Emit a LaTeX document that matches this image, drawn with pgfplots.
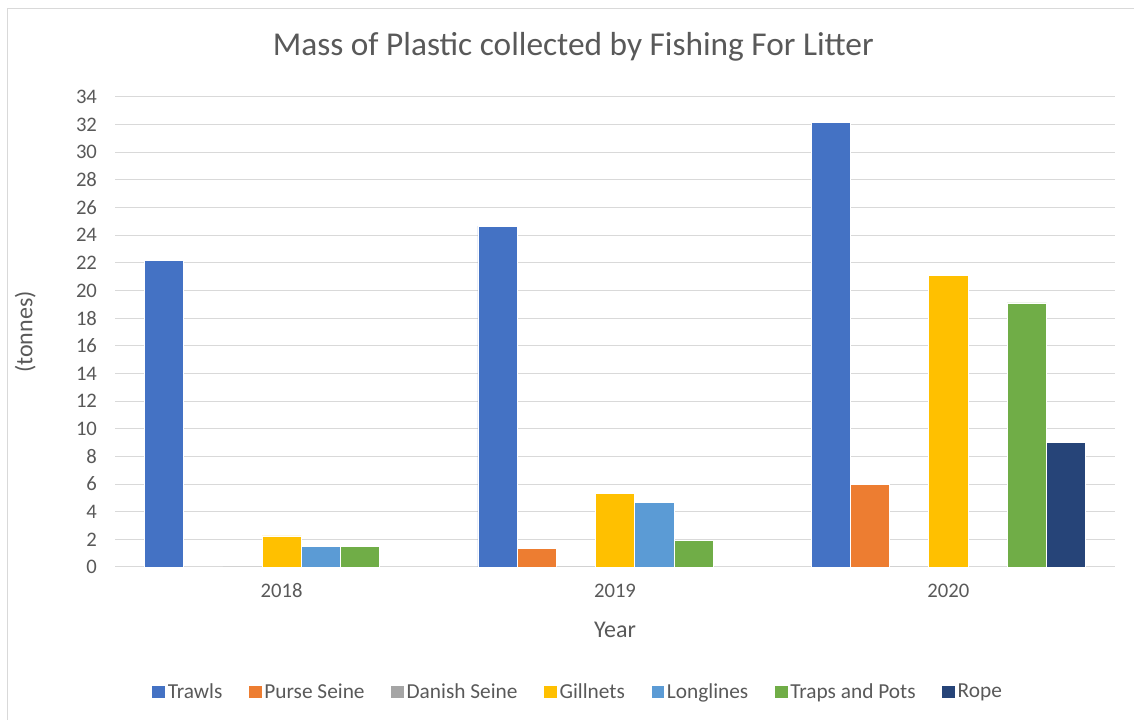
\documentclass[border=0pt]{standalone}
\usepackage{fontspec}
\setmainfont{Carlito}
\usepackage{pgfplots}
\pgfplotsset{compat=1.18}

\definecolor{txt}{HTML}{595959}
\definecolor{gridc}{HTML}{D9D9D9}
\definecolor{cTrawls}{HTML}{4472C4}
\definecolor{cPurse}{HTML}{ED7D31}
\definecolor{cDanish}{HTML}{A5A5A5}
\definecolor{cGill}{HTML}{FFC000}
\definecolor{cLong}{HTML}{5B9BD5}
\definecolor{cTraps}{HTML}{70AD47}
\definecolor{cRope}{HTML}{264478}

\begin{document}
\begin{tikzpicture}
\useasboundingbox (0,0) rectangle (850.5pt,540pt);
% chart area border
\draw[gridc, line width=0.75pt] (5.25pt,-20pt) rectangle (880pt,533.25pt);
% chart title
\node[txt, font=\fontsize{25}{30}\selectfont] at (430pt,504.75pt)
  {Mass of Plastic collected by Fishing For Litter};
% axis titles
\node[txt, font=\fontsize{18}{22}\selectfont] at (461.25pt,67.5pt) {Year};
\node[txt, font=\fontsize{18}{22}\selectfont, rotate=90] at (19pt,291pt) {(tonnes)};

\begin{axis}[
  at={(86.25pt,114.75pt)}, anchor=south west,
  scale only axis, width=750pt, height=352.5pt,
  xmin=-0.5, xmax=2.5,
  ymin=0, ymax=34,
  xtick={0,1,2}, xticklabels={2018,2019,2020},
  ytick={0,2,...,34},
  /pgf/number format/assume math mode=true,
  ybar=0pt, bar width=29.4pt,
  axis x line*=bottom, axis y line*=left,
  y axis line style={draw=none},
  x axis line style={draw=gridc, line width=0.75pt},
  major tick length=0pt,
  ymajorgrids, grid style={draw=gridc, line width=0.75pt},
  tick label style={txt, font=\fontsize{15.5}{18}\selectfont},
  yticklabel style={xshift=-10pt},
  xticklabel style={yshift=-9pt},
  legend columns=7,
  legend cell align=left,
  legend style={at={(0.4635,-0.266)}, anchor=center, draw=none, fill=none,
    font=\fontsize{16}{19}\selectfont, text=txt,
    /tikz/every even column/.append style={column sep=18pt}},
  legend image code/.code={\fill[#1, draw=none] (0pt,-4.75pt) rectangle (9.5pt,4.75pt);},
]
\addplot[fill=cTrawls, draw=white, line width=0.4pt] coordinates {(0,22.2) (1,24.65) (2,32.15)};
\addlegendentry{Trawls}
\addplot[fill=cPurse, draw=white, line width=0.4pt] coordinates {(1,1.35) (2,6.0)};
\addlegendentry{Purse Seine}
\addplot[fill=cDanish, draw=none] coordinates {(0,0) (1,0) (2,0)};
\addlegendentry{Danish Seine}
\addplot[fill=cGill, draw=white, line width=0.4pt] coordinates {(0,2.25) (1,5.3) (2,21.1)};
\addlegendentry{Gillnets}
\addplot[fill=cLong, draw=white, line width=0.4pt] coordinates {(0,1.5) (1,4.65)};
\addlegendentry{Longlines}
\addplot[fill=cTraps, draw=white, line width=0.4pt] coordinates {(0,1.5) (1,1.95) (2,19.1)};
\addlegendentry{Traps and Pots}
\addplot[fill=cRope, draw=white, line width=0.4pt] coordinates {(2,9.05)};
\addlegendentry{Rope}
\end{axis}
\end{tikzpicture}
\end{document}
